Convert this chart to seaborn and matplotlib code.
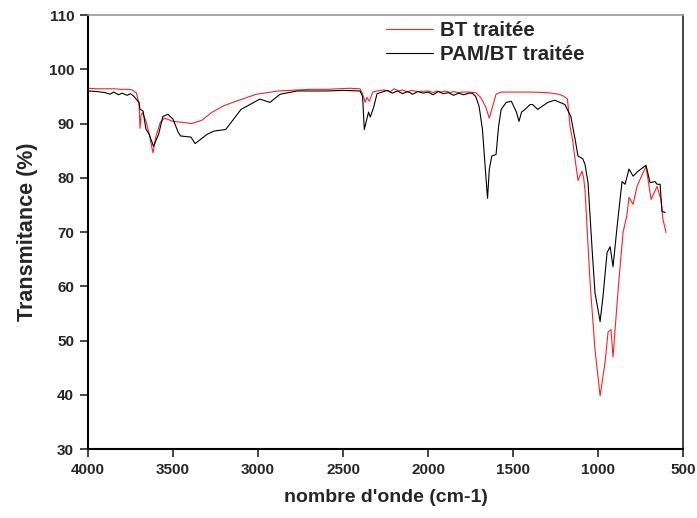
import matplotlib
matplotlib.use("Agg")
import matplotlib.pyplot as plt
import seaborn as sns
import pandas as pd

# FTIR spectrum of treated bentonite (BT traitée)
bt_wavenumber = [4000, 3950, 3900, 3850, 3800, 3770, 3740, 3715, 3700, 3694, 3688, 3680,
                 3660, 3640, 3618, 3600, 3575, 3550, 3500, 3440, 3390, 3330, 3270, 3200,
                 3130, 3010, 2880, 2700, 2600, 2460, 2400, 2385, 2370, 2360, 2345, 2325,
                 2300, 2260, 2220, 2200, 2170, 2150, 2120, 2100, 2060, 2000, 1970, 1950,
                 1920, 1900, 1870, 1850, 1820, 1800, 1760, 1720, 1690, 1660, 1640, 1620,
                 1600, 1570, 1500, 1400, 1300, 1230, 1200, 1180, 1165, 1150, 1135, 1118,
                 1105, 1094, 1085, 1077, 1047, 1018, 988, 959, 941, 924, 912, 882, 853,
                 830, 818, 794, 771, 753, 718, 688, 653, 630, 618, 600]
bt_transmittance = [96.5, 96.4, 96.4, 96.4, 96.3, 96.3, 96.2, 95.6, 93.5, 89.1, 91.5, 92.0,
                    90.5, 88.0, 84.6, 87.7, 90.2, 91.0, 90.4, 90.2, 90.0, 90.6, 92.1, 93.3,
                    94.1, 95.4, 96.0, 96.3, 96.3, 96.5, 96.4, 95.5, 93.9, 94.8, 94.1, 95.8,
                    96.0, 96.2, 95.9, 96.4, 96.0, 96.2, 95.8, 96.1, 95.9, 96.0, 95.7, 96.0,
                    95.8, 96.0, 95.7, 95.9, 95.7, 95.8, 95.8, 95.7, 94.8, 93.0, 91.0, 93.2,
                    95.4, 95.8, 95.8, 95.8, 95.7, 95.4, 95.0, 94.5, 89.5, 87.0, 83.4, 79.5,
                    80.5, 81.2, 80.0, 77.8, 60.7, 48.3, 39.8, 45.9, 51.6, 52.0, 47.0, 59.4, 69.9,
                    73.2, 76.4, 75.1, 78.4, 79.7, 82.1, 76.0, 78.4, 76.0, 72.3, 69.9]

# FTIR spectrum of PAM-modified treated bentonite (PAM/BT traitée)
pam_wavenumber = [4000, 3950, 3900, 3870, 3850, 3820, 3800, 3770, 3750, 3730, 3720, 3700,
                  3694, 3676, 3660, 3640, 3615, 3585, 3560, 3530, 3500, 3470, 3455, 3395,
                  3370, 3300, 3260, 3190, 3100, 2990, 2930, 2870, 2770, 2600, 2500, 2400,
                  2385, 2375, 2350, 2340, 2320, 2300, 2270, 2240, 2210, 2180, 2150, 2120,
                  2090, 2060, 2030, 2000, 1970, 1940, 1910, 1880, 1850, 1820, 1790, 1760,
                  1740, 1720, 1700, 1680, 1660, 1650, 1640, 1625, 1600, 1585, 1570, 1540,
                  1510, 1480, 1465, 1450, 1430, 1400, 1385, 1355, 1295, 1255, 1195, 1160,
                  1135, 1118, 1090, 1077, 1059, 1035, 1018, 988, 971, 947, 929, 912, 888,
                  859, 841, 818, 794, 765, 718, 694, 665, 653, 635, 624, 605]
pam_transmittance = [96.0, 95.9, 95.7, 95.4, 95.8, 95.3, 95.6, 95.2, 95.5, 95.0, 94.6, 93.9,
                     92.6, 92.3, 89.0, 88.0, 85.8, 88.0, 91.3, 91.7, 90.8, 88.4, 87.7, 87.5,
                     86.3, 88.0, 88.6, 88.9, 92.6, 94.5, 93.9, 95.4, 96.0, 96.0, 96.1, 96.0,
                     95.0, 88.9, 92.1, 91.2, 93.0, 95.5, 95.8, 96.1, 95.6, 96.0, 95.5, 95.9,
                     95.4, 95.9, 95.6, 95.8, 95.3, 95.9, 95.5, 95.7, 95.2, 95.6, 95.3, 95.6,
                     95.6, 95.0, 93.2, 88.9, 80.3, 76.2, 81.5, 84.0, 84.3, 89.5, 92.6, 93.9,
                     94.1, 92.1, 90.4, 92.1, 92.6, 93.5, 93.5, 92.6, 93.9, 94.3, 93.5, 91.3,
                     87.1, 84.0, 83.5, 82.5, 79.1, 66.8, 58.8, 53.5, 58.1, 66.2, 67.3, 63.6, 71.0,
                     79.3, 78.8, 81.6, 80.3, 81.2, 82.3, 79.1, 79.3, 78.8, 78.8, 73.8, 73.6]

x_ticks = [4000, 3500, 3000, 2500, 2000, 1500, 1000, 500]
y_ticks = [30, 40, 50, 60, 70, 80, 90, 100, 110]

sns.set_style("ticks")
plt.rcParams["font.family"] = ["Liberation Sans", "DejaVu Sans"]

bt = pd.DataFrame({"wn": bt_wavenumber, "T": bt_transmittance})
pam = pd.DataFrame({"wn": pam_wavenumber, "T": pam_transmittance})

fig = plt.figure(figsize=(6.97, 5.18), dpi=100)
ax = fig.add_axes([0.1263, 0.1332, 0.8537, 0.8378])

sns.lineplot(data=bt, x="wn", y="T", sort=False, estimator=None, color="#ff2020",
             lw=0.8, ax=ax, label="BT traitée")
sns.lineplot(data=pam, x="wn", y="T", sort=False, estimator=None, color="black",
             lw=0.8, ax=ax, label="PAM/BT traitée")

ax.set_xlim(4000, 500)
ax.set_ylim(30, 110)
ax.set_xticks(x_ticks)
ax.set_yticks(y_ticks)
ax.tick_params(axis="both", direction="out", length=6, width=1.2, labelsize=11, pad=4)
for lbl in ax.get_xticklabels() + ax.get_yticklabels():
    lbl.set_fontweight("bold")

ax.set_xlabel("nombre d'onde (cm-1)", fontsize=14, fontweight="bold", labelpad=9)
ax.set_ylabel("Transmitance (%)", fontsize=15.5, fontweight="bold", labelpad=8)

for side in ("left", "bottom"):
    ax.spines[side].set_linewidth(1.5)
    ax.spines[side].set_color("black")
ax.spines["right"].set_linewidth(1.2)
ax.spines["right"].set_color("#222222")
ax.spines["top"].set_linewidth(1.2)
ax.spines["top"].set_color("#999999")

leg = ax.legend(loc="upper left", bbox_to_anchor=(0.4705, 1.028), frameon=False,
                prop={"weight": "bold", "size": 14.8}, handlelength=2.25,
                handletextpad=0.35, labelspacing=0.22)

fig.savefig("out.png", dpi=100)
